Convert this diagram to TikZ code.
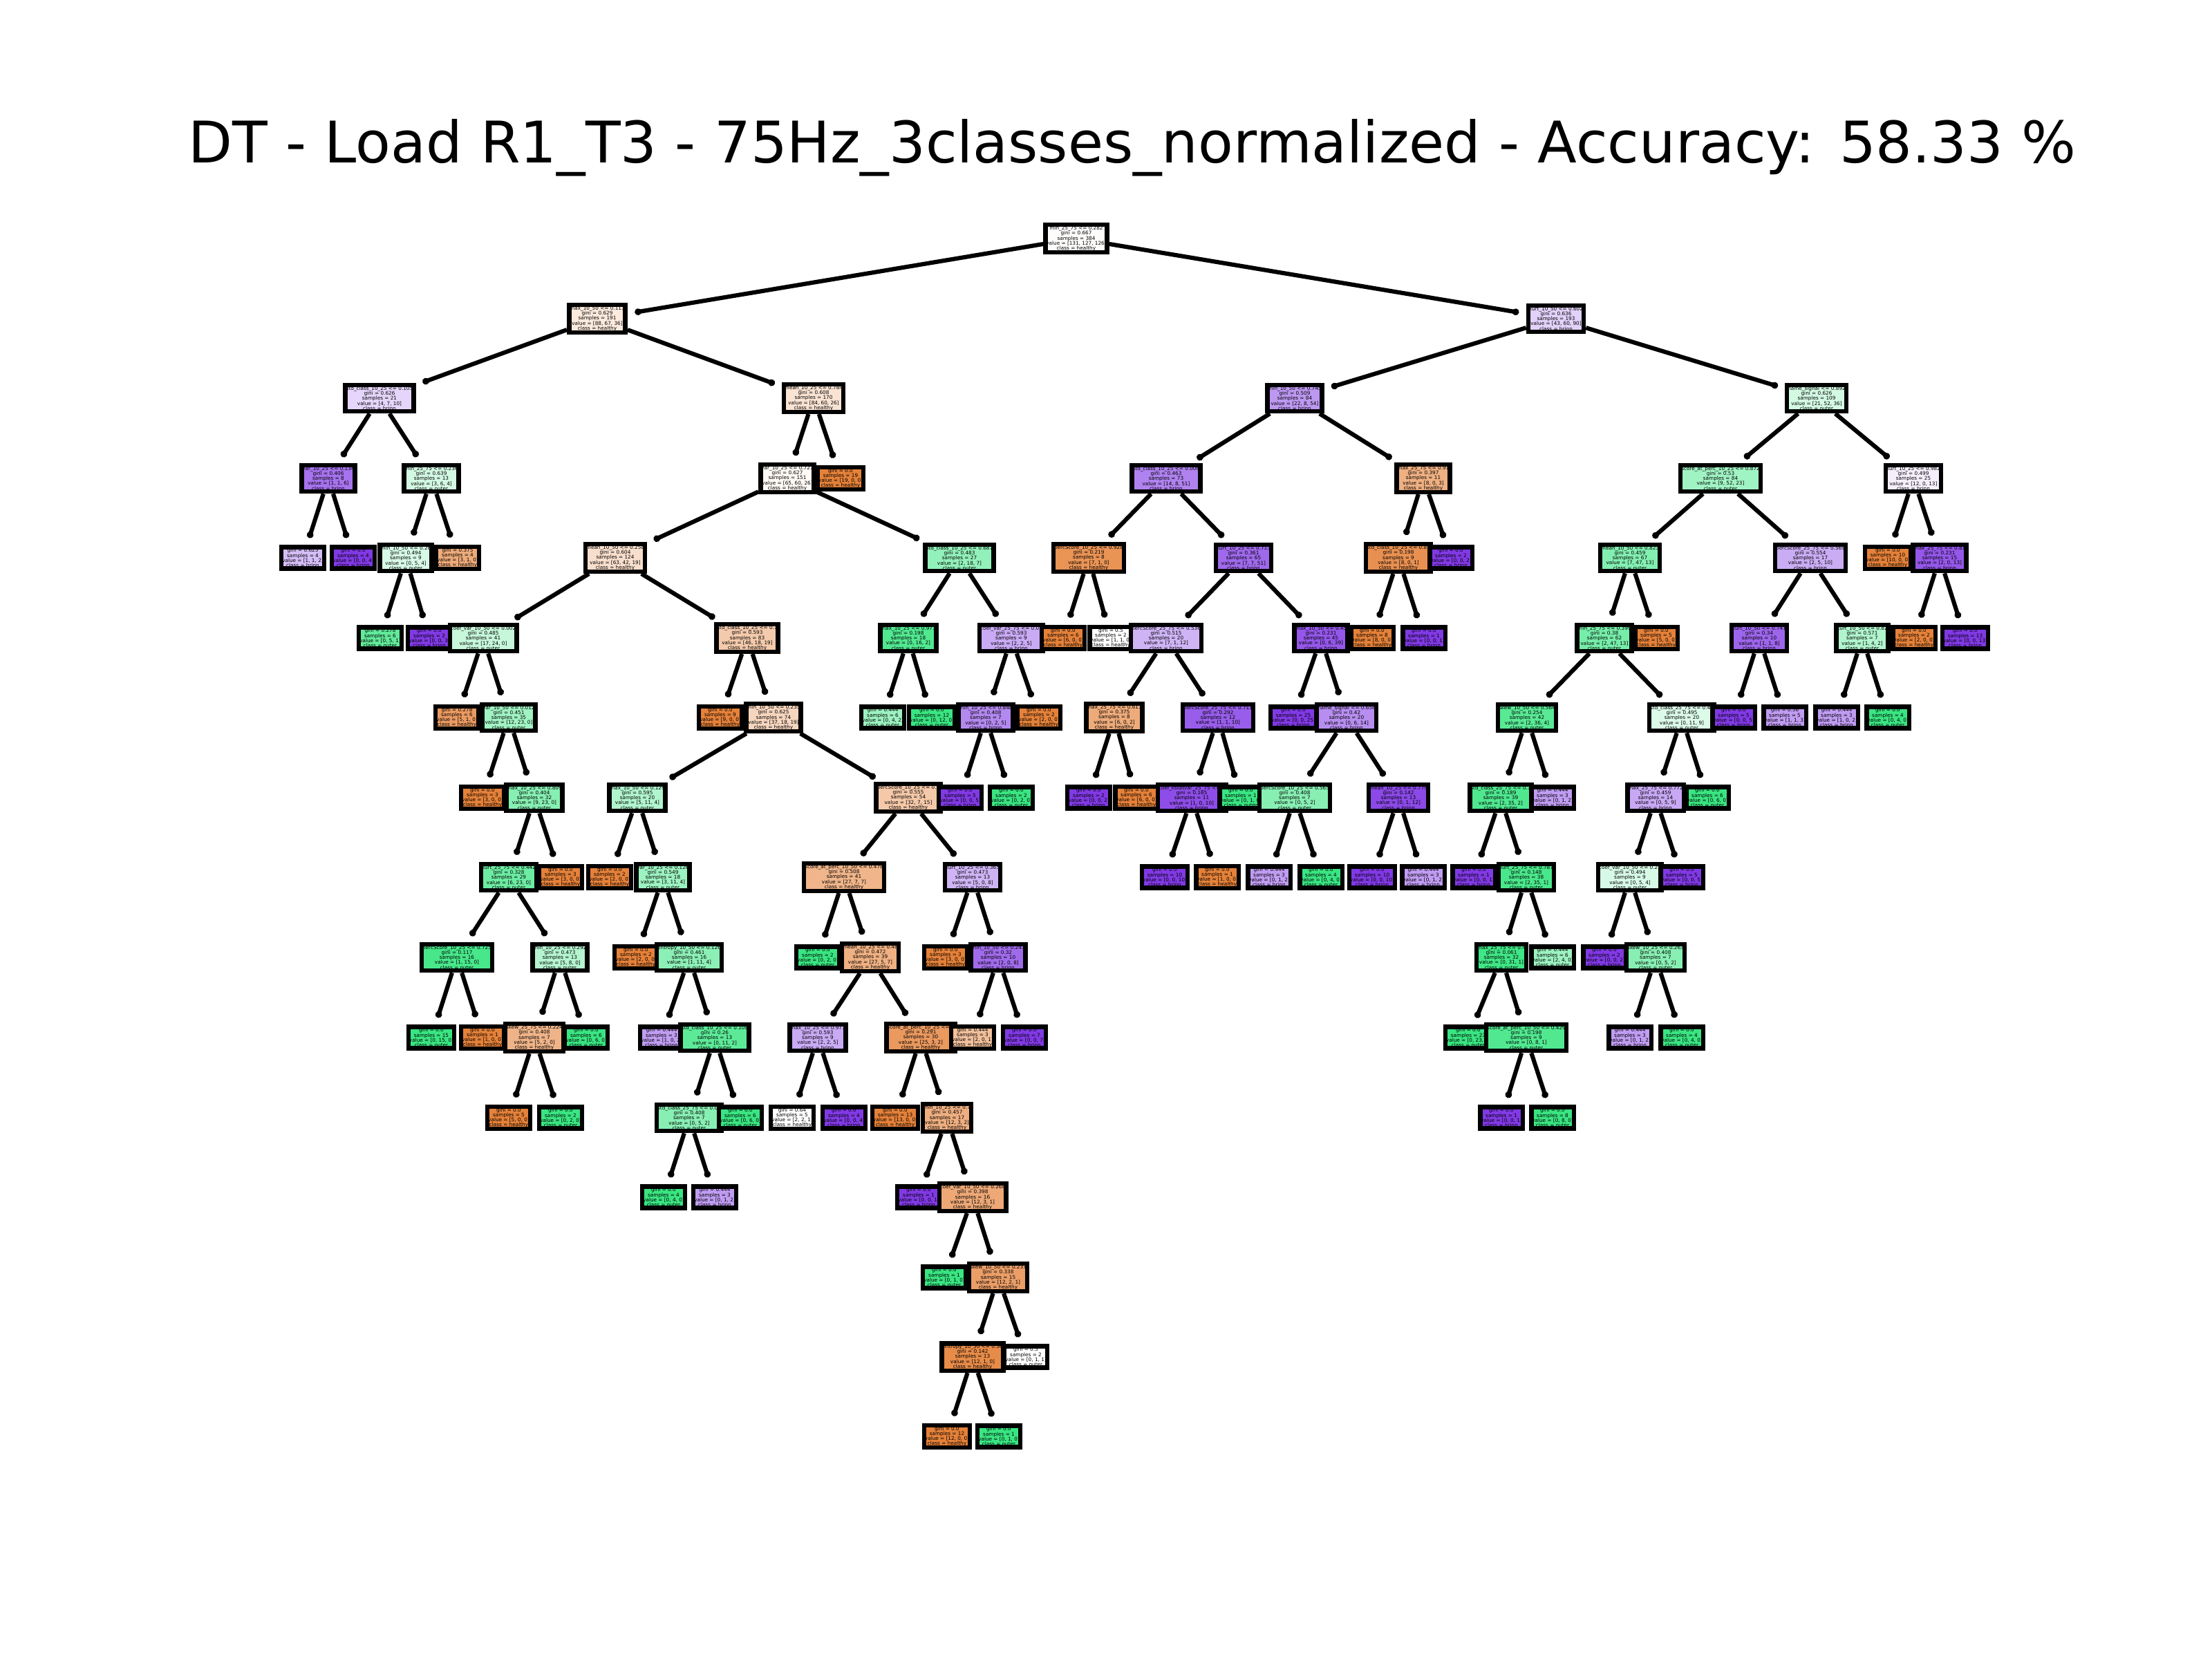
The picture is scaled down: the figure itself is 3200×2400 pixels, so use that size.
\documentclass[tikz,border=0pt]{standalone}
\usepackage{fontspec}
\setmainfont{DejaVu Sans}
\usetikzlibrary{arrows.meta}

\definecolor{healthy}{RGB}{229,129,57}
\definecolor{outer}{RGB}{57,229,129}
\definecolor{brinn}{RGB}{129,57,229}

\tikzset{
  box/.style={draw=black, line width=1.85pt, fill=#1, inner xsep=0.3pt, inner ysep=0.5pt,
    align=center, font=\fontsize{2.07pt}{2.07pt}\selectfont},
  branch/.style={line width=1.75pt, -{Circle[length=2.7pt]}, shorten >=3pt}
}

\begin{document}
\begin{tikzpicture}[x=0.01cm, y=-0.01cm]
  \useasboundingbox (0,0) rectangle (3200,2400);
  \node [font=\fontsize{23.6pt}{28pt}\selectfont] (title) at (1638,214) {DT - Load R1\_T3 - 75Hz\_3classes\_normalized - Accuracy: 58.33 \%};

  % nodes, drawn parent first, then left and right subtrees
  \node [box=healthy!2!white] (t) at (1557,345) {min\_25\_75 <= 0.282\\gini = 0.667\\samples = 384\\value = [131, 127, 126]\\class = healthy};
  \node [box=healthy!17!white] (tl) at (864,461) {max\_10\_50 <= 0.113\\gini = 0.629\\samples = 191\\value = [88, 67, 36]\\class = healthy};
  \node [box=brinn!21!white] (tll) at (549,576) {std\_class\_10\_25 <= 0.105\\gini = 0.626\\samples = 21\\value = [4, 7, 10]\\class = brinn};
  \node [box=brinn!71!white] (tlll) at (475,692) {var\_10\_25 <= 0.134\\gini = 0.406\\samples = 8\\value = [1, 1, 6]\\class = brinn};
  \node [box=brinn!33!white] (tllll) at (438,807) {gini = 0.625\\samples = 4\\value = [1, 1, 2]\\class = brinn};
  \node [box=brinn] (tlllr) at (511,807) {gini = 0.0\\samples = 4\\value = [0, 0, 4]\\class = brinn};
  \node [box=outer!22!white] (tllr) at (624,692) {min\_25\_75 <= 0.236\\gini = 0.639\\samples = 13\\value = [3, 6, 4]\\class = outer};
  \node [box=outer!20!white] (tllrl) at (587,807) {min\_10\_50 <= 0.26\\gini = 0.494\\samples = 9\\value = [0, 5, 4]\\class = outer};
  \node [box=outer!80!white] (tllrll) at (550,923) {gini = 0.278\\samples = 6\\value = [0, 5, 1]\\class = outer};
  \node [box=brinn] (tllrlr) at (621,923) {gini = 0.0\\samples = 3\\value = [0, 0, 3]\\class = brinn};
  \node [box=healthy!67!white] (tllrr) at (662,807) {gini = 0.375\\samples = 4\\value = [3, 1, 0]\\class = healthy};
  \node [box=healthy!22!white] (tlr) at (1177,576) {mean\_10\_25 <= 0.784\\gini = 0.608\\samples = 170\\value = [84, 60, 26]\\class = healthy};
  \node [box=healthy!5!white] (tlrl) at (1139,692) {var\_10\_25 <= 0.721\\gini = 0.627\\samples = 151\\value = [65, 60, 26]\\class = healthy};
  \node [box=healthy!26!white] (tlrll) at (890,807) {mean\_10\_50 <= 0.258\\gini = 0.604\\samples = 124\\value = [63, 42, 19]\\class = healthy};
  \node [box=outer!29!white] (tlrlll) at (699,923) {coef\_var\_10\_50 <= 0.002\\gini = 0.485\\samples = 41\\value = [17, 24, 0]\\class = outer};
  \node [box=healthy!80!white] (tlrllll) at (661,1038) {gini = 0.278\\samples = 6\\value = [5, 1, 0]\\class = healthy};
  \node [box=outer!48!white] (tlrlllr) at (736,1038) {var\_10\_50 <= 0.012\\gini = 0.451\\samples = 35\\value = [12, 23, 0]\\class = outer};
  \node [box=healthy] (tlrlllrl) at (698,1154) {gini = 0.0\\samples = 3\\value = [3, 0, 0]\\class = healthy};
  \node [box=outer!61!white] (tlrlllrr) at (773,1154) {max\_10\_25 <= 0.809\\gini = 0.404\\samples = 32\\value = [9, 23, 0]\\class = outer};
  \node [box=outer!74!white] (tlrlllrrl) at (736,1269) {kurt\_25\_75 <= 0.442\\gini = 0.328\\samples = 29\\value = [6, 23, 0]\\class = outer};
  \node [box=outer!93!white] (tlrlllrrll) at (661,1385) {percScore\_10\_25 <= 0.725\\gini = 0.117\\samples = 16\\value = [1, 15, 0]\\class = outer};
  \node [box=outer] (tlrlllrrlll) at (624,1501) {gini = 0.0\\samples = 15\\value = [0, 15, 0]\\class = outer};
  \node [box=healthy] (tlrlllrrllr) at (698,1501) {gini = 0.0\\samples = 1\\value = [1, 0, 0]\\class = healthy};
  \node [box=outer!38!white] (tlrlllrrlr) at (810,1385) {min\_10\_25 <= 0.292\\gini = 0.473\\samples = 13\\value = [5, 8, 0]\\class = outer};
  \node [box=healthy!60!white] (tlrlllrrlrl) at (773,1501) {skew\_25\_75 <= 0.224\\gini = 0.408\\samples = 7\\value = [5, 2, 0]\\class = healthy};
  \node [box=healthy] (tlrlllrrlrll) at (736,1617) {gini = 0.0\\samples = 5\\value = [5, 0, 0]\\class = healthy};
  \node [box=outer] (tlrlllrrlrlr) at (811,1617) {gini = 0.0\\samples = 2\\value = [0, 2, 0]\\class = outer};
  \node [box=outer] (tlrlllrrlrr) at (848,1501) {gini = 0.0\\samples = 6\\value = [0, 6, 0]\\class = outer};
  \node [box=healthy] (tlrlllrrr) at (811,1269) {gini = 0.0\\samples = 3\\value = [3, 0, 0]\\class = healthy};
  \node [box=healthy!42!white] (tlrllr) at (1081,923) {std\_class\_10\_25 <= 0.1\\gini = 0.593\\samples = 83\\value = [46, 18, 19]\\class = healthy};
  \node [box=healthy] (tlrllrl) at (1042,1038) {gini = 0.0\\samples = 9\\value = [9, 0, 0]\\class = healthy};
  \node [box=healthy!33!white] (tlrllrr) at (1119,1038) {min\_10\_50 <= 0.235\\gini = 0.625\\samples = 74\\value = [37, 18, 19]\\class = healthy};
  \node [box=outer!40!white] (tlrllrrl) at (922,1154) {max\_10\_50 <= 0.129\\gini = 0.595\\samples = 20\\value = [5, 11, 4]\\class = outer};
  \node [box=healthy] (tlrllrrll) at (882,1269) {gini = 0.0\\samples = 2\\value = [2, 0, 0]\\class = healthy};
  \node [box=outer!50!white] (tlrllrrlr) at (959,1269) {var\_10\_25 <= 0.126\\gini = 0.549\\samples = 18\\value = [3, 11, 4]\\class = outer};
  \node [box=healthy] (tlrllrrlrl) at (920,1385) {gini = 0.0\\samples = 2\\value = [2, 0, 0]\\class = healthy};
  \node [box=outer!58!white] (tlrllrrlrr) at (997,1385) {entropy\_10\_50 <= 0.126\\gini = 0.461\\samples = 16\\value = [1, 11, 4]\\class = outer};
  \node [box=brinn!50!white] (tlrllrrlrrl) at (957,1501) {gini = 0.444\\samples = 3\\value = [1, 0, 2]\\class = brinn};
  \node [box=outer!82!white] (tlrllrrlrrr) at (1034,1501) {std\_class\_10\_25 <= 0.108\\gini = 0.26\\samples = 13\\value = [0, 11, 2]\\class = outer};
  \node [box=outer!60!white] (tlrllrrlrrrl) at (997,1617) {std\_class\_25\_75 <= 0.04\\gini = 0.408\\samples = 7\\value = [0, 5, 2]\\class = outer};
  \node [box=outer] (tlrllrrlrrrll) at (960,1732) {gini = 0.0\\samples = 4\\value = [0, 4, 0]\\class = outer};
  \node [box=brinn!50!white] (tlrllrrlrrrlr) at (1034,1732) {gini = 0.444\\samples = 3\\value = [0, 1, 2]\\class = brinn};
  \node [box=outer] (tlrllrrlrrrr) at (1071,1617) {gini = 0.0\\samples = 6\\value = [0, 6, 0]\\class = outer};
  \node [box=healthy!44!white] (tlrllrrr) at (1314,1154) {percScore\_10\_25 <= 0.5\\gini = 0.555\\samples = 54\\value = [32, 7, 15]\\class = healthy};
  \node [box=healthy!59!white] (tlrllrrrl) at (1221,1269) {score\_at\_perc\_10\_50 <= 0.478\\gini = 0.508\\samples = 41\\value = [27, 7, 7]\\class = healthy};
  \node [box=outer] (tlrllrrrll) at (1183,1385) {gini = 0.0\\samples = 2\\value = [0, 2, 0]\\class = outer};
  \node [box=healthy!63!white] (tlrllrrrlr) at (1259,1385) {mean\_10\_25 <= 0.48\\gini = 0.472\\samples = 39\\value = [27, 5, 7]\\class = healthy};
  \node [box=brinn!43!white] (tlrllrrrlrl) at (1183,1501) {max\_10\_25 <= 0.971\\gini = 0.593\\samples = 9\\value = [2, 2, 5]\\class = brinn};
  \node [box=white] (tlrllrrrlrll) at (1146,1617) {gini = 0.64\\samples = 5\\value = [2, 2, 1]\\class = healthy};
  \node [box=brinn] (tlrllrrrlrlr) at (1221,1617) {gini = 0.0\\samples = 4\\value = [0, 0, 4]\\class = brinn};
  \node [box=healthy!81!white] (tlrllrrrlrr) at (1332,1501) {score\_at\_perc\_10\_25 <= 0\\gini = 0.291\\samples = 30\\value = [25, 3, 2]\\class = healthy};
  \node [box=healthy] (tlrllrrrlrrl) at (1295,1617) {gini = 0.0\\samples = 13\\value = [13, 0, 0]\\class = healthy};
  \node [box=healthy!64!white] (tlrllrrrlrrr) at (1370,1617) {min\_10\_25 <= 0.7\\gini = 0.457\\samples = 17\\value = [12, 3, 2]\\class = healthy};
  \node [box=brinn] (tlrllrrrlrrrl) at (1329,1732) {gini = 0.0\\samples = 1\\value = [0, 0, 1]\\class = brinn};
  \node [box=healthy!69!white] (tlrllrrrlrrrr) at (1407,1732) {coef\_var\_10\_50 <= 0.268\\gini = 0.398\\samples = 16\\value = [12, 3, 1]\\class = healthy};
  \node [box=outer] (tlrllrrrlrrrrl) at (1366,1848) {gini = 0.0\\samples = 1\\value = [0, 1, 0]\\class = outer};
  \node [box=healthy!77!white] (tlrllrrrlrrrrr) at (1444,1848) {skew\_10\_50 <= 0.237\\gini = 0.338\\samples = 15\\value = [12, 2, 1]\\class = healthy};
  \node [box=healthy!92!white] (tlrllrrrlrrrrrl) at (1407,1963) {entropy\_10\_50 <= 0.36\\gini = 0.142\\samples = 13\\value = [12, 1, 0]\\class = healthy};
  \node [box=healthy] (tlrllrrrlrrrrrll) at (1370,2078) {gini = 0.0\\samples = 12\\value = [12, 0, 0]\\class = healthy};
  \node [box=outer] (tlrllrrrlrrrrrlr) at (1445,2078) {gini = 0.0\\samples = 1\\value = [0, 1, 0]\\class = outer};
  \node [box=white] (tlrllrrrlrrrrrr) at (1484,1963) {gini = 0.5\\samples = 2\\value = [0, 1, 1]\\class = outer};
  \node [box=brinn!38!white] (tlrllrrrr) at (1407,1269) {kurt\_10\_25 <= 0.365\\gini = 0.473\\samples = 13\\value = [5, 0, 8]\\class = brinn};
  \node [box=healthy] (tlrllrrrrl) at (1368,1385) {gini = 0.0\\samples = 3\\value = [3, 0, 0]\\class = healthy};
  \node [box=brinn!75!white] (tlrllrrrrr) at (1444,1385) {min\_10\_50 <= 0.247\\gini = 0.32\\samples = 10\\value = [2, 0, 8]\\class = brinn};
  \node [box=healthy!50!white] (tlrllrrrrrl) at (1407,1501) {gini = 0.444\\samples = 3\\value = [2, 0, 1]\\class = healthy};
  \node [box=brinn] (tlrllrrrrrr) at (1482,1501) {gini = 0.0\\samples = 7\\value = [0, 0, 7]\\class = brinn};
  \node [box=outer!55!white] (tlrlr) at (1388,807) {std\_class\_10\_25 <= 0.687\\gini = 0.483\\samples = 27\\value = [2, 18, 7]\\class = outer};
  \node [box=outer!88!white] (tlrlrl) at (1314,923) {max\_10\_25 <= 0.971\\gini = 0.198\\samples = 18\\value = [0, 16, 2]\\class = outer};
  \node [box=outer!50!white] (tlrlrll) at (1277,1038) {gini = 0.444\\samples = 6\\value = [0, 4, 2]\\class = outer};
  \node [box=outer] (tlrlrlr) at (1348,1038) {gini = 0.0\\samples = 12\\value = [0, 12, 0]\\class = outer};
  \node [box=brinn!43!white] (tlrlrr) at (1463,923) {coef\_var\_25\_75 <= 0.01\\gini = 0.593\\samples = 9\\value = [2, 2, 5]\\class = brinn};
  \node [box=brinn!60!white] (tlrlrrl) at (1426,1038) {min\_10\_25 <= 0.848\\gini = 0.408\\samples = 7\\value = [0, 2, 5]\\class = brinn};
  \node [box=brinn] (tlrlrrll) at (1389,1154) {gini = 0.0\\samples = 5\\value = [0, 0, 5]\\class = brinn};
  \node [box=outer] (tlrlrrlr) at (1463,1154) {gini = 0.0\\samples = 2\\value = [0, 2, 0]\\class = outer};
  \node [box=healthy] (tlrlrrr) at (1503,1038) {gini = 0.0\\samples = 2\\value = [2, 0, 0]\\class = healthy};
  \node [box=healthy] (tlrr) at (1216,692) {gini = 0.0\\samples = 19\\value = [19, 0, 0]\\class = healthy};
  \node [box=brinn!23!white] (tr) at (2251,461) {kurt\_10\_50 <= 0.602\\gini = 0.636\\samples = 193\\value = [43, 60, 90]\\class = brinn};
  \node [box=brinn!52!white] (trl) at (1873,576) {min\_10\_50 <= 0.745\\gini = 0.509\\samples = 84\\value = [22, 8, 54]\\class = brinn};
  \node [box=brinn!63!white] (trll) at (1687,692) {std\_class\_10\_25 <= 0.006\\gini = 0.463\\samples = 73\\value = [14, 8, 51]\\class = brinn};
  \node [box=healthy!86!white] (trlll) at (1575,807) {percScore\_10\_25 <= 0.928\\gini = 0.219\\samples = 8\\value = [7, 1, 0]\\class = healthy};
  \node [box=healthy] (trllll) at (1538,923) {gini = 0.0\\samples = 6\\value = [6, 0, 0]\\class = healthy};
  \node [box=white] (trlllr) at (1607,923) {gini = 0.5\\samples = 2\\value = [1, 1, 0]\\class = healthy};
  \node [box=brinn!76!white] (trllr) at (1799,807) {kurt\_10\_25 <= 0.713\\gini = 0.361\\samples = 65\\value = [7, 7, 51]\\class = brinn};
  \node [box=brinn!38!white] (trllrl) at (1687,923) {percScore\_25\_75 <= 0.536\\gini = 0.515\\samples = 20\\value = [7, 1, 12]\\class = brinn};
  \node [box=healthy!67!white] (trllrll) at (1612,1038) {max\_25\_75 <= 0.611\\gini = 0.375\\samples = 8\\value = [6, 0, 2]\\class = healthy};
  \node [box=brinn] (trllrlll) at (1575,1154) {gini = 0.0\\samples = 2\\value = [0, 0, 2]\\class = brinn};
  \node [box=healthy] (trllrllr) at (1644,1154) {gini = 0.0\\samples = 6\\value = [6, 0, 0]\\class = healthy};
  \node [box=brinn!82!white] (trllrlr) at (1762,1038) {percScore\_25\_75 <= 0.711\\gini = 0.292\\samples = 12\\value = [1, 1, 10]\\class = brinn};
  \node [box=brinn!90!white] (trllrlrl) at (1724,1154) {coef\_kstatvar\_25\_75 <= 0\\gini = 0.165\\samples = 11\\value = [1, 0, 10]\\class = brinn};
  \node [box=brinn] (trllrlrll) at (1685,1269) {gini = 0.0\\samples = 10\\value = [0, 0, 10]\\class = brinn};
  \node [box=healthy] (trllrlrlr) at (1761,1269) {gini = 0.0\\samples = 1\\value = [1, 0, 0]\\class = healthy};
  \node [box=outer] (trllrlrr) at (1795,1154) {gini = 0.0\\samples = 1\\value = [0, 1, 0]\\class = outer};
  \node [box=brinn!85!white] (trllrr) at (1911,923) {max\_10\_50 <= 0.45\\gini = 0.231\\samples = 45\\value = [0, 6, 39]\\class = brinn};
  \node [box=brinn] (trllrrl) at (1871,1038) {gini = 0.0\\samples = 25\\value = [0, 0, 25]\\class = brinn};
  \node [box=brinn!57!white] (trllrrr) at (1948,1038) {name\_signal <= 0.656\\gini = 0.42\\samples = 20\\value = [0, 6, 14]\\class = brinn};
  \node [box=outer!60!white] (trllrrrl) at (1873,1154) {percScore\_10\_25 <= 0.565\\gini = 0.408\\samples = 7\\value = [0, 5, 2]\\class = outer};
  \node [box=brinn!50!white] (trllrrrll) at (1836,1269) {gini = 0.444\\samples = 3\\value = [0, 1, 2]\\class = brinn};
  \node [box=outer] (trllrrrlr) at (1911,1269) {gini = 0.0\\samples = 4\\value = [0, 4, 0]\\class = outer};
  \node [box=brinn!92!white] (trllrrrr) at (2023,1154) {mean\_10\_25 <= 0.779\\gini = 0.142\\samples = 13\\value = [0, 1, 12]\\class = brinn};
  \node [box=brinn] (trllrrrrl) at (1985,1269) {gini = 0.0\\samples = 10\\value = [0, 0, 10]\\class = brinn};
  \node [box=brinn!50!white] (trllrrrrr) at (2059,1269) {gini = 0.444\\samples = 3\\value = [0, 1, 2]\\class = brinn};
  \node [box=healthy!63!white] (trlr) at (2059,692) {max\_25\_75 <= 0.91\\gini = 0.397\\samples = 11\\value = [8, 0, 3]\\class = healthy};
  \node [box=healthy!88!white] (trlrl) at (2023,807) {std\_class\_10\_25 <= 0.83\\gini = 0.198\\samples = 9\\value = [8, 0, 1]\\class = healthy};
  \node [box=healthy] (trlrll) at (1985,923) {gini = 0.0\\samples = 8\\value = [8, 0, 0]\\class = healthy};
  \node [box=brinn] (trlrlr) at (2060,923) {gini = 0.0\\samples = 1\\value = [0, 0, 1]\\class = brinn};
  \node [box=brinn] (trlrr) at (2099,807) {gini = 0.0\\samples = 2\\value = [0, 0, 2]\\class = brinn};
  \node [box=outer!22!white] (trr) at (2628,576) {name\_signal <= 0.892\\gini = 0.626\\samples = 109\\value = [21, 52, 36]\\class = outer};
  \node [box=outer!48!white] (trrl) at (2489,692) {score\_at\_perc\_10\_25 <= 0.872\\gini = 0.53\\samples = 84\\value = [9, 52, 23]\\class = outer};
  \node [box=outer!63!white] (trrll) at (2358,807) {mean\_10\_50 <= 0.823\\gini = 0.459\\samples = 67\\value = [7, 47, 13]\\class = outer};
  \node [box=outer!69!white] (trrlll) at (2321,923) {min\_25\_75 <= 0.399\\gini = 0.38\\samples = 62\\value = [2, 47, 13]\\class = outer};
  \node [box=outer!84!white] (trrllll) at (2209,1038) {skew\_10\_50 <= 0.564\\gini = 0.254\\samples = 42\\value = [2, 36, 4]\\class = outer};
  \node [box=outer!89!white] (trrlllll) at (2171,1154) {std\_class\_25\_75 <= 0.1\\gini = 0.189\\samples = 39\\value = [2, 35, 2]\\class = outer};
  \node [box=brinn] (trrllllll) at (2132,1269) {gini = 0.0\\samples = 1\\value = [0, 0, 1]\\class = brinn};
  \node [box=outer!92!white] (trrlllllr) at (2208,1269) {kurt\_25\_75 <= 0.787\\gini = 0.148\\samples = 38\\value = [2, 35, 1]\\class = outer};
  \node [box=outer!97!white] (trrlllllrl) at (2172,1385) {max\_25\_75 <= 0.4\\gini = 0.061\\samples = 32\\value = [0, 31, 1]\\class = outer};
  \node [box=outer] (trrlllllrll) at (2124,1501) {gini = 0.0\\samples = 23\\value = [0, 23, 0]\\class = outer};
  \node [box=outer!88!white] (trrlllllrlr) at (2208,1501) {score\_at\_perc\_10\_50 <= 0.429\\gini = 0.198\\samples = 9\\value = [0, 8, 1]\\class = outer};
  \node [box=brinn] (trrlllllrlrl) at (2172,1617) {gini = 0.0\\samples = 1\\value = [0, 0, 1]\\class = brinn};
  \node [box=outer] (trrlllllrlrr) at (2246,1617) {gini = 0.0\\samples = 8\\value = [0, 8, 0]\\class = outer};
  \node [box=outer!50!white] (trrlllllrr) at (2246,1385) {gini = 0.444\\samples = 6\\value = [2, 4, 0]\\class = outer};
  \node [box=brinn!50!white] (trrllllr) at (2246,1154) {gini = 0.444\\samples = 3\\value = [0, 1, 2]\\class = brinn};
  \node [box=outer!18!white] (trrlllr) at (2433,1038) {std\_class\_25\_75 <= 0.43\\gini = 0.495\\samples = 20\\value = [0, 11, 9]\\class = outer};
  \node [box=brinn!44!white] (trrlllrl) at (2395,1154) {max\_25\_75 <= 0.772\\gini = 0.459\\samples = 14\\value = [0, 5, 9]\\class = brinn};
  \node [box=outer!20!white] (trrlllrll) at (2358,1269) {coef\_var\_10\_50 <= 0.25\\gini = 0.494\\samples = 9\\value = [0, 5, 4]\\class = outer};
  \node [box=brinn] (trrlllrlll) at (2321,1385) {gini = 0.0\\samples = 2\\value = [0, 0, 2]\\class = brinn};
  \node [box=outer!60!white] (trrlllrllr) at (2395,1385) {skew\_10\_25 <= 0.263\\gini = 0.408\\samples = 7\\value = [0, 5, 2]\\class = outer};
  \node [box=brinn!50!white] (trrlllrllrl) at (2358,1501) {gini = 0.444\\samples = 3\\value = [0, 1, 2]\\class = brinn};
  \node [box=outer] (trrlllrllrr) at (2433,1501) {gini = 0.0\\samples = 4\\value = [0, 4, 0]\\class = outer};
  \node [box=brinn] (trrlllrlr) at (2433,1269) {gini = 0.0\\samples = 5\\value = [0, 0, 5]\\class = brinn};
  \node [box=outer] (trrlllrr) at (2470,1154) {gini = 0.0\\samples = 6\\value = [0, 6, 0]\\class = outer};
  \node [box=healthy] (trrllr) at (2396,923) {gini = 0.0\\samples = 5\\value = [5, 0, 0]\\class = healthy};
  \node [box=brinn!42!white] (trrlr) at (2619,807) {percScore\_25\_75 <= 0.569\\gini = 0.554\\samples = 17\\value = [2, 5, 10]\\class = brinn};
  \node [box=brinn!78!white] (trrlrl) at (2545,923) {kurt\_10\_50 <= 0.741\\gini = 0.34\\samples = 10\\value = [1, 1, 8]\\class = brinn};
  \node [box=brinn] (trrlrll) at (2508,1038) {gini = 0.0\\samples = 5\\value = [0, 0, 5]\\class = brinn};
  \node [box=brinn!50!white] (trrlrlr) at (2582,1038) {gini = 0.56\\samples = 5\\value = [1, 1, 3]\\class = brinn};
  \node [box=outer!40!white] (trrlrr) at (2694,923) {kurt\_10\_50 <= 0.82\\gini = 0.571\\samples = 7\\value = [1, 4, 2]\\class = outer};
  \node [box=brinn!50!white] (trrlrrl) at (2657,1038) {gini = 0.444\\samples = 3\\value = [1, 0, 2]\\class = brinn};
  \node [box=outer] (trrlrrr) at (2731,1038) {gini = 0.0\\samples = 4\\value = [0, 4, 0]\\class = outer};
  \node [box=brinn!8!white] (trrr) at (2768,692) {kurt\_10\_25 <= 0.982\\gini = 0.499\\samples = 25\\value = [12, 0, 13]\\class = brinn};
  \node [box=healthy] (trrrl) at (2731,807) {gini = 0.0\\samples = 10\\value = [10, 0, 0]\\class = healthy};
  \node [box=brinn!85!white] (trrrr) at (2806,807) {max\_25\_75 <= 0.81\\gini = 0.231\\samples = 15\\value = [2, 0, 13]\\class = brinn};
  \node [box=healthy] (trrrrl) at (2769,923) {gini = 0.0\\samples = 2\\value = [2, 0, 0]\\class = healthy};
  \node [box=brinn] (trrrrr) at (2843,923) {gini = 0.0\\samples = 13\\value = [0, 0, 13]\\class = brinn};

  % branches, one line per split
  \path (t) edge [branch] (tl) edge [branch] (tr);
  \path (tl) edge [branch] (tll) edge [branch] (tlr);
  \path (tll) edge [branch] (tlll) edge [branch] (tllr);
  \path (tlll) edge [branch] (tllll) edge [branch] (tlllr);
  \path (tllr) edge [branch] (tllrl) edge [branch] (tllrr);
  \path (tllrl) edge [branch] (tllrll) edge [branch] (tllrlr);
  \path (tlr) edge [branch] (tlrl) edge [branch] (tlrr);
  \path (tlrl) edge [branch] (tlrll) edge [branch] (tlrlr);
  \path (tlrll) edge [branch] (tlrlll) edge [branch] (tlrllr);
  \path (tlrlll) edge [branch] (tlrllll) edge [branch] (tlrlllr);
  \path (tlrlllr) edge [branch] (tlrlllrl) edge [branch] (tlrlllrr);
  \path (tlrlllrr) edge [branch] (tlrlllrrl) edge [branch] (tlrlllrrr);
  \path (tlrlllrrl) edge [branch] (tlrlllrrll) edge [branch] (tlrlllrrlr);
  \path (tlrlllrrll) edge [branch] (tlrlllrrlll) edge [branch] (tlrlllrrllr);
  \path (tlrlllrrlr) edge [branch] (tlrlllrrlrl) edge [branch] (tlrlllrrlrr);
  \path (tlrlllrrlrl) edge [branch] (tlrlllrrlrll) edge [branch] (tlrlllrrlrlr);
  \path (tlrllr) edge [branch] (tlrllrl) edge [branch] (tlrllrr);
  \path (tlrllrr) edge [branch] (tlrllrrl) edge [branch] (tlrllrrr);
  \path (tlrllrrl) edge [branch] (tlrllrrll) edge [branch] (tlrllrrlr);
  \path (tlrllrrlr) edge [branch] (tlrllrrlrl) edge [branch] (tlrllrrlrr);
  \path (tlrllrrlrr) edge [branch] (tlrllrrlrrl) edge [branch] (tlrllrrlrrr);
  \path (tlrllrrlrrr) edge [branch] (tlrllrrlrrrl) edge [branch] (tlrllrrlrrrr);
  \path (tlrllrrlrrrl) edge [branch] (tlrllrrlrrrll) edge [branch] (tlrllrrlrrrlr);
  \path (tlrllrrr) edge [branch] (tlrllrrrl) edge [branch] (tlrllrrrr);
  \path (tlrllrrrl) edge [branch] (tlrllrrrll) edge [branch] (tlrllrrrlr);
  \path (tlrllrrrlr) edge [branch] (tlrllrrrlrl) edge [branch] (tlrllrrrlrr);
  \path (tlrllrrrlrl) edge [branch] (tlrllrrrlrll) edge [branch] (tlrllrrrlrlr);
  \path (tlrllrrrlrr) edge [branch] (tlrllrrrlrrl) edge [branch] (tlrllrrrlrrr);
  \path (tlrllrrrlrrr) edge [branch] (tlrllrrrlrrrl) edge [branch] (tlrllrrrlrrrr);
  \path (tlrllrrrlrrrr) edge [branch] (tlrllrrrlrrrrl) edge [branch] (tlrllrrrlrrrrr);
  \path (tlrllrrrlrrrrr) edge [branch] (tlrllrrrlrrrrrl) edge [branch] (tlrllrrrlrrrrrr);
  \path (tlrllrrrlrrrrrl) edge [branch] (tlrllrrrlrrrrrll) edge [branch] (tlrllrrrlrrrrrlr);
  \path (tlrllrrrr) edge [branch] (tlrllrrrrl) edge [branch] (tlrllrrrrr);
  \path (tlrllrrrrr) edge [branch] (tlrllrrrrrl) edge [branch] (tlrllrrrrrr);
  \path (tlrlr) edge [branch] (tlrlrl) edge [branch] (tlrlrr);
  \path (tlrlrl) edge [branch] (tlrlrll) edge [branch] (tlrlrlr);
  \path (tlrlrr) edge [branch] (tlrlrrl) edge [branch] (tlrlrrr);
  \path (tlrlrrl) edge [branch] (tlrlrrll) edge [branch] (tlrlrrlr);
  \path (tr) edge [branch] (trl) edge [branch] (trr);
  \path (trl) edge [branch] (trll) edge [branch] (trlr);
  \path (trll) edge [branch] (trlll) edge [branch] (trllr);
  \path (trlll) edge [branch] (trllll) edge [branch] (trlllr);
  \path (trllr) edge [branch] (trllrl) edge [branch] (trllrr);
  \path (trllrl) edge [branch] (trllrll) edge [branch] (trllrlr);
  \path (trllrll) edge [branch] (trllrlll) edge [branch] (trllrllr);
  \path (trllrlr) edge [branch] (trllrlrl) edge [branch] (trllrlrr);
  \path (trllrlrl) edge [branch] (trllrlrll) edge [branch] (trllrlrlr);
  \path (trllrr) edge [branch] (trllrrl) edge [branch] (trllrrr);
  \path (trllrrr) edge [branch] (trllrrrl) edge [branch] (trllrrrr);
  \path (trllrrrl) edge [branch] (trllrrrll) edge [branch] (trllrrrlr);
  \path (trllrrrr) edge [branch] (trllrrrrl) edge [branch] (trllrrrrr);
  \path (trlr) edge [branch] (trlrl) edge [branch] (trlrr);
  \path (trlrl) edge [branch] (trlrll) edge [branch] (trlrlr);
  \path (trr) edge [branch] (trrl) edge [branch] (trrr);
  \path (trrl) edge [branch] (trrll) edge [branch] (trrlr);
  \path (trrll) edge [branch] (trrlll) edge [branch] (trrllr);
  \path (trrlll) edge [branch] (trrllll) edge [branch] (trrlllr);
  \path (trrllll) edge [branch] (trrlllll) edge [branch] (trrllllr);
  \path (trrlllll) edge [branch] (trrllllll) edge [branch] (trrlllllr);
  \path (trrlllllr) edge [branch] (trrlllllrl) edge [branch] (trrlllllrr);
  \path (trrlllllrl) edge [branch] (trrlllllrll) edge [branch] (trrlllllrlr);
  \path (trrlllllrlr) edge [branch] (trrlllllrlrl) edge [branch] (trrlllllrlrr);
  \path (trrlllr) edge [branch] (trrlllrl) edge [branch] (trrlllrr);
  \path (trrlllrl) edge [branch] (trrlllrll) edge [branch] (trrlllrlr);
  \path (trrlllrll) edge [branch] (trrlllrlll) edge [branch] (trrlllrllr);
  \path (trrlllrllr) edge [branch] (trrlllrllrl) edge [branch] (trrlllrllrr);
  \path (trrlr) edge [branch] (trrlrl) edge [branch] (trrlrr);
  \path (trrlrl) edge [branch] (trrlrll) edge [branch] (trrlrlr);
  \path (trrlrr) edge [branch] (trrlrrl) edge [branch] (trrlrrr);
  \path (trrr) edge [branch] (trrrl) edge [branch] (trrrr);
  \path (trrrr) edge [branch] (trrrrl) edge [branch] (trrrrr);
\end{tikzpicture}
\end{document}
